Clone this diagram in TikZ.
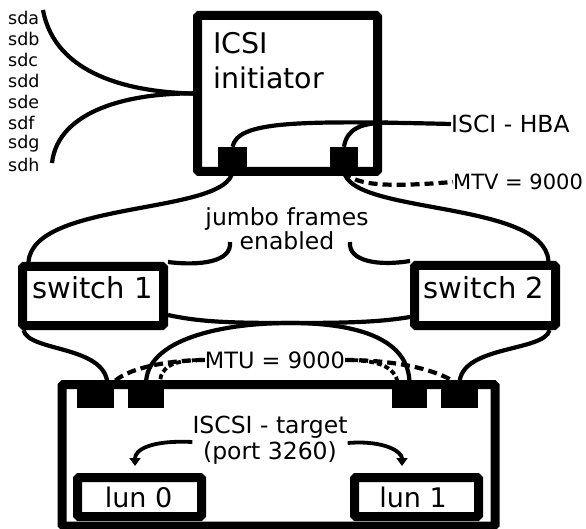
\documentclass[tikz,border=0pt]{standalone}
\usepackage{fontspec}
\setmainfont{DejaVu Sans}
\usetikzlibrary{arrows.meta}
\begin{document}
\begin{tikzpicture}[x=1pt,y=-1pt,
  box/.style={draw, line width=9pt, rounded corners=1.5pt, inner sep=0pt},
  port/.style={fill, draw=none, inner sep=0pt, minimum height=24pt},
  wire/.style={line width=4.2pt},
  mtu/.style={line width=4.2pt, dash pattern=on 9pt off 5pt},
  mtushort/.style={line width=3.8pt, dash pattern=on 5pt off 3pt},
  lbl/.style={font=\fontsize{23.5}{24}\selectfont, inner sep=0pt},
  biglbl/.style={font=\fontsize{29}{29}\selectfont, inner sep=0pt},
  lunlbl/.style={font=\fontsize{27}{27}\selectfont, inner sep=0pt},
  disk/.style={font=\fontsize{17.5}{21}\selectfont, inner sep=0pt, anchor=west},
  pointer/.style={line width=3.8pt, -{Triangle[width=11pt,length=8pt]}}
]
\useasboundingbox (0,0) rectangle (586,529);

% --- initiator host -------------------------------------------------
\node[box, minimum width=180pt, minimum height=156pt] (init) at (287.5,93.5) {};
\node[anchor=north west, inner sep=0pt, align=left,
      font=\fontsize{28.5}{35}\selectfont] (initlbl) at (213,32) {ICSI\\initiator};
\node[port, minimum width=29pt] (ip1) at (232.5,159) {};
\node[port, minimum width=28pt] (ip2) at (344,159) {};

% HBA and MTU notes on the initiator side
\node[lbl, anchor=west] (hba) at (451,124) {ISCI - HBA};
\node[lbl, font=\fontsize{21}{24}\selectfont, anchor=west] (mtv) at (453,182) {MTV = 9000};
\coordinate (hbaj) at (388,122.5);
\draw[wire] (ip1.north) .. controls (238,122) and (290,120) .. (hba.west);
\draw[wire] (ip2.north) .. controls (347,128) and (362,123) .. (hbaj);
\draw[mtu] (ip2.south) .. controls (355,188) and (400,186) .. (mtv.west);

% block devices seen by the initiator
\foreach \d [count=\i from 0] in {sda,sdb,sdc,sdd,sde,sdf,sdg,sdh}
  \node[disk] (dev-\d) at (8,{18+21*\i}) {\d};
\coordinate (dtop) at (43,10);
\coordinate (dbot) at (52,163);
\draw[wire] (dtop) .. controls (55,75) and (130,92) .. (init.west);
\draw[wire] (dbot) .. controls (58,110) and (130,93) .. (init.west);

% --- switches ---------------------------------------------------------
\node[box, minimum width=141pt, minimum height=59pt] (sw1) at (93,296) {};
\node[biglbl] (sw1lbl) at (92.5,288) {switch 1};
\node[box, minimum width=141pt, minimum height=60pt] (sw2) at (485,295.5) {};
\node[biglbl] (sw2lbl) at (484,288) {switch 2};

\draw[wire] (ip1.south) .. controls (228,215) and (33,200) .. ([xshift=10.5pt]sw1.north west);
\draw[wire] (ip2.south) .. controls (350,215) and (544,200) .. ([xshift=-11.5pt]sw2.north east);

\node[lbl, align=center, font=\fontsize{23.5}{22}\selectfont] (jumbo) at (287,229) {jumbo frames\\enabled};
\coordinate (j1) at (230,242);
\coordinate (j2) at (350,242);
\draw[wire] (j1) .. controls (232,262) and (200,266) .. (sw1.north east);
\draw[wire] (j2) .. controls (348,262) and (380,266) .. (sw2.north west);

% --- target host ------------------------------------------------------
\node[box, minimum width=433pt, minimum height=141.5pt] (tgt) at (278.5,455.25) {};
\node[port, minimum width=37pt] (tp1) at (95.5,396) {};
\node[port, minimum width=36pt] (tp2) at (146,396) {};
\node[port, minimum width=35pt] (tp3) at (409.5,396) {};
\node[port, minimum width=37pt] (tp4) at (459.5,396) {};

% switch uplinks to the target NICs
\draw[wire] ([xshift=5.5pt]sw1.south west) .. controls (28,352) and (105,345) .. ([xshift=12pt]tp1.north);
\draw[wire] ([xshift=-10.5pt]sw2.south east) .. controls (545,352) and (460,345) .. (tp4.north);
\draw[wire] ([yshift=-19pt]sw1.east) .. controls (200,322) and (230,323) .. (290,323)
            .. controls (360,323) and (409.5,340) .. (tp3.north);
\draw[wire] ([yshift=-21.5pt]sw2.west) .. controls (380,322) and (350,323) .. (290,323)
            .. controls (220,323) and (146,340) .. (tp2.north);

% MTU note on the target side
\node[lbl, font=\fontsize{22.5}{24}\selectfont] (mtu) at (275,360) {MTU = 9000};
\draw[mtu] (mtu.west) .. controls (170,360) and (125,368) .. ([xshift=-2pt]tp1.north east);
\draw[mtushort] (mtu.west) .. controls (175,360) and (160,365) .. ([xshift=14pt]tp2.north);
\draw[mtu] (mtu.east) .. controls (380,360) and (430,365) .. ([xshift=-2pt]tp4.north);
\draw[mtushort] (mtu.east) .. controls (375,360) and (395,365) .. ([xshift=-11.5pt]tp3.north);

% target service and its LUNs
\node[lbl, align=center, font=\fontsize{23.5}{26}\selectfont] (tgtlbl) at (270,440) {ISCSI - target\\(port 3260)};
\node[box, minimum width=124pt, minimum height=39pt] (lun0) at (139.5,497) {};
\node[lunlbl] (lun0lbl) at (138.5,497.7) {lun 0};
\node[box, minimum width=124pt, minimum height=39pt] (lun1) at (416.5,497) {};
\node[lunlbl] (lun1lbl) at (413,497.7) {lun 1};

\draw[pointer] ([yshift=-2pt]tgtlbl.west) .. controls (150,440) and (135,450) .. ([xshift=-4.5pt,yshift=7pt]lun0.north);
\draw[pointer] ([yshift=-3pt]tgtlbl.east) .. controls (385,440) and (402,452) .. ([xshift=-14.5pt,yshift=7pt]lun1.north);
\end{tikzpicture}
\end{document}
